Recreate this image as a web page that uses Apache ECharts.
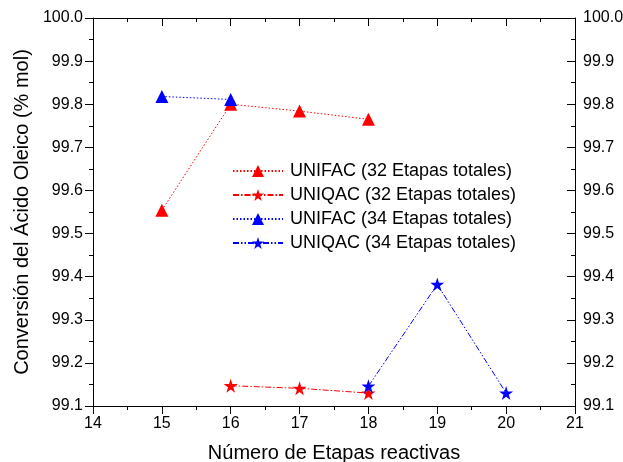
<!DOCTYPE html>
<html>
<head>
<meta charset="utf-8">
<script src="https://cdn.jsdelivr.net/npm/echarts@6/dist/echarts.min.js"></script>
<style>
html,body{margin:0;padding:0;background:#fff;}
#wrap{position:relative;width:623px;height:462px;}
#c,#t{position:absolute;left:0;top:0;width:623px;height:462px;}
#t{pointer-events:none;}
</style>
</head>
<body>
<div id="wrap"><div id="c"></div><div id="t"></div></div>
<script>
// Data
var seriesNames = ['UNIFAC (32 Etapas totales)', 'UNIQAC (32 Etapas totales)', 'UNIFAC (34 Etapas totales)', 'UNIQAC (34 Etapas totales)'];
var unifac32 = [[15, 99.554], [16, 99.800], [17, 99.784], [18, 99.765]];
var uniqac32 = [[16, 99.147], [17, 99.141], [18, 99.130]];
var unifac34 = [[15, 99.818], [16, 99.811]];
var uniqac34 = [[18, 99.146], [19, 99.382], [20, 99.130]];
var xTicks = [14, 15, 16, 17, 18, 19, 20, 21];
var yTicks = [99.1, 99.2, 99.3, 99.4, 99.5, 99.6, 99.7, 99.8, 99.9, 100.0];
var xTitle = 'Número de Etapas reactivas';
var yTitle = 'Conversión del Ácido Oleico (% mol)';

var FONT = '"Liberation Sans", Arial, sans-serif';
var star = 'path://M50,0 L61.2,34.5 L97.6,34.5 L68.2,55.9 L79.4,90.5 L50,69.1 L20.6,90.5 L31.8,55.9 L2.4,34.5 L38.8,34.5 Z';
var GRID = {left: 93, right: 48, top: 18, bottom: 56, containLabel: false, outerBoundsMode: 'none'};

function xAxisBase(pos) {
  return {
    type: 'value', position: pos, min: xTicks[0], max: xTicks[xTicks.length - 1], interval: 1,
    axisLine: {show: true, onZero: false, lineStyle: {color: '#000'}},
    axisTick: {show: false},
    minorTick: {show: false},
    splitLine: {show: false},
    axisLabel: {show: pos === 'bottom', color: '#000', fontFamily: FONT, fontSize: 16, margin: 10}
  };
}
function yAxisBase(pos) {
  return {
    type: 'value', position: pos, min: yTicks[0], max: yTicks[yTicks.length - 1], interval: 0.1,
    axisLine: {show: true, onZero: false, lineStyle: {color: '#000'}},
    axisTick: {show: false},
    minorTick: {show: false},
    splitLine: {show: false},
    axisLabel: {show: true, color: '#000', fontFamily: FONT, fontSize: 16, margin: pos === 'right' ? 8 : 10,
      formatter: function (v) { return v.toFixed(1); }}
  };
}

function mk(name, data, color, symbol, size, dash, idx) {
  return {
    name: name, type: 'line', data: data, xAxisIndex: 1, yAxisIndex: 1,
    symbol: symbol, symbolSize: size, showSymbol: true,
    itemStyle: {color: color},
    lineStyle: {color: color, width: 1, type: dash},
    z: 3 + idx
  };
}

var chart = echarts.init(document.getElementById('c'), null, {renderer: 'canvas'});
chart.setOption({
  backgroundColor: '#fff',
  animation: false,
  grid: GRID,
  xAxis: [xAxisBase('top'), xAxisBase('bottom')],
  yAxis: [yAxisBase('right'), yAxisBase('left')],
  legend: {
    data: seriesNames,
    orient: 'vertical', left: 227, top: 157,
    itemWidth: 50, itemHeight: 15, itemGap: 6,
    textStyle: {color: '#000', fontFamily: FONT, fontSize: 18, padding: [0, 0, 0, 2]},
    selectedMode: false
  },
  graphic: [
    {type: 'text', x: 334, y: 453, z: 10,
      style: {text: xTitle, fill: '#000', font: '20px ' + FONT, align: 'center', verticalAlign: 'middle',
        textAlign: 'center', textVerticalAlign: 'middle'}},
    {type: 'text', x: 22, y: 212, rotation: Math.PI / 2, z: 10,
      style: {text: yTitle, fill: '#000', font: '20px ' + FONT, align: 'center', verticalAlign: 'middle',
        textAlign: 'center', textVerticalAlign: 'middle'}}
  ],
  series: [
    mk(seriesNames[0], unifac32, '#ff0000', 'triangle', 13, [1.5, 2], 0),
    mk(seriesNames[1], uniqac32, '#ff0000', star, 14, [6, 2, 1.5, 2], 1),
    mk(seriesNames[2], unifac34, '#0000ff', 'triangle', 13, [1.5, 2], 2),
    mk(seriesNames[3], uniqac34, '#0000ff', star, 14, [6, 2, 1.5, 2, 1.5, 2], 3)
  ]
});

// Transparent overlay that only draws the tick marks of the four axes
function tickAxis(kind, pos, inside) {
  var a = {
    type: 'value', position: pos,
    axisLine: {show: false, onZero: false},
    axisTick: {show: true, inside: inside, length: 8, lineStyle: {color: '#000'}},
    minorTick: {show: true, splitNumber: 2, length: 4, lineStyle: {color: '#000'}},
    splitLine: {show: false},
    axisLabel: {show: false}
  };
  if (kind === 'x') { a.min = xTicks[0]; a.max = xTicks[xTicks.length - 1]; a.interval = 1; }
  else { a.min = yTicks[0]; a.max = yTicks[yTicks.length - 1]; a.interval = 0.1; }
  return a;
}
var ticks = echarts.init(document.getElementById('t'), null, {renderer: 'canvas'});
ticks.setOption({
  animation: false,
  grid: GRID,
  xAxis: [tickAxis('x', 'top', true), tickAxis('x', 'bottom', false)],
  yAxis: [tickAxis('y', 'right', true), tickAxis('y', 'left', false)],
  series: [{type: 'line', data: [], xAxisIndex: 1, yAxisIndex: 1, silent: true}]
});
</script>
</body>
</html>
